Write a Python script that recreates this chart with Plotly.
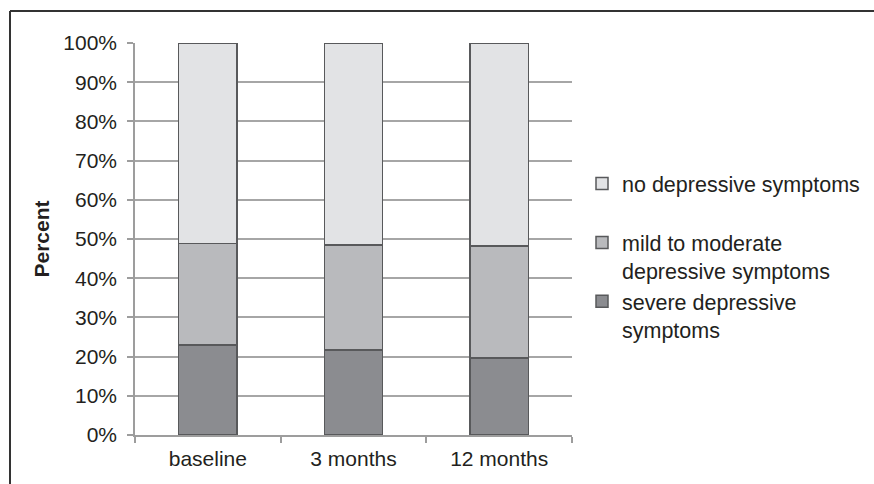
import plotly.graph_objects as go

# Depressive symptom categories over the follow-up period (percent of participants)
timepoints = ["baseline", "3 months", "12 months"]
severe = [23.0, 21.7, 19.6]
mild_moderate = [25.9, 26.8, 28.6]
none = [51.1, 51.5, 51.8]
y_ticks = [0, 10, 20, 30, 40, 50, 60, 70, 80, 90, 100]

W, H = 874, 484
L, R, T, B = 135, 302, 43, 49
plot_w, plot_h = W - L - R, H - T - B

font = "Liberation Sans, Arial, sans-serif"
edge = dict(color="#58595b", width=1.5)

fig = go.Figure()
series = [
    ("severe depressive<br>symptoms", severe, "#8b8c90", 3),
    ("mild to moderate<br>depressive symptoms", mild_moderate, "#b9babd", 2),
    ("no depressive symptoms<br> ", none, "#e2e3e5", 1),
]
for name, vals, col, rank in series:
    fig.add_trace(go.Bar(
        x=timepoints, y=vals, name=name, legendrank=rank,
        marker=dict(color=col, line=edge), width=0.4,
    ))


def px_x(px):
    return (px - L) / plot_w


def px_y(py):
    return (H - B - py) / plot_h


fig.update_layout(
    width=W, height=H,
    margin=dict(l=L, r=R, t=T, b=B, autoexpand=False),
    barmode="stack",
    plot_bgcolor="white", paper_bgcolor="white",
    font=dict(family=font, size=21, color="#231f20"),
    showlegend=True,
    legend=dict(
        x=px_x(582), y=px_y(163), xanchor="left", yanchor="top",
        traceorder="normal", valign="top", tracegroupgap=0,
        font=dict(size=21.5), itemwidth=30,
        bgcolor="rgba(0,0,0,0)",
    ),
    xaxis=dict(
        showline=True, linecolor="#9d9d9d", linewidth=1.5,
        ticks="outside", ticklen=6, tickcolor="#9d9d9d", tickwidth=1.5,
        tickson="boundaries", showgrid=False,
        ticklabelstandoff=4,
        tickfont=dict(size=21),
    ),
    yaxis=dict(
        range=[0, 100], tickvals=y_ticks,
        ticktext=[f"{v}%" for v in y_ticks],
        showline=True, linecolor="#9d9d9d", linewidth=1.5,
        ticks="outside", ticklen=6, tickcolor="#9d9d9d", tickwidth=1.5,
        showgrid=True, gridcolor="#a6a6a6", gridwidth=1.5,
        zeroline=False, ticklabelstandoff=6,
        title=dict(text="<b>Percent</b>", font=dict(size=21), standoff=8),
        tickfont=dict(size=21),
    ),
    shapes=[
        dict(type="line", xref="paper", yref="paper",
             x0=px_x(10), x1=px_x(W + 5), y0=px_y(11), y1=px_y(11),
             line=dict(color="#333333", width=2)),
        dict(type="line", xref="paper", yref="paper",
             x0=px_x(10), x1=px_x(10), y0=px_y(11), y1=px_y(H + 5),
             line=dict(color="#333333", width=2)),
    ],
)

fig.write_html("out.html")
